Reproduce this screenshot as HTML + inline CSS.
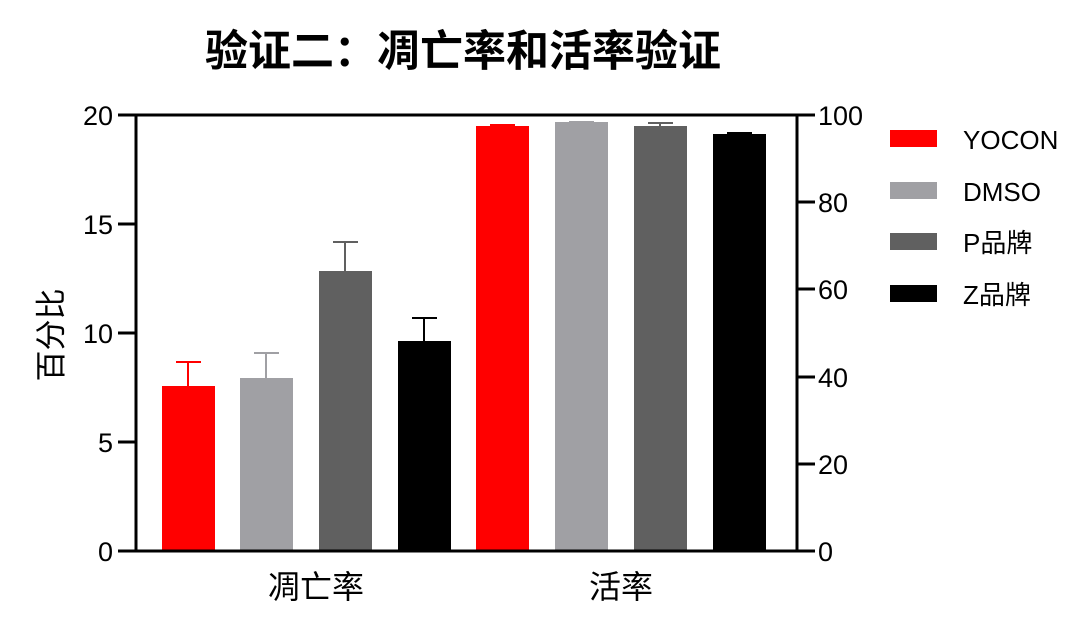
<!DOCTYPE html>
<html><head><meta charset="utf-8"><style>body{margin:0;background:#fff}svg{display:block}</style></head>
<body>
<svg width="1080" height="636" viewBox="0 0 1080 636" xmlns="http://www.w3.org/2000/svg" font-family="Liberation Sans, Noto Sans CJK SC, sans-serif">
<rect width="1080" height="636" fill="#fff"/>
<text x="463" y="66" text-anchor="middle" font-size="43" font-weight="bold" font-family="Noto Sans CJK SC, sans-serif">验证二：凋亡率和活率验证</text>
<g stroke-width="2">
<line x1="188" y1="386" x2="188" y2="362" stroke="#f00"/><line x1="176" y1="362" x2="201" y2="362" stroke="#f00"/>
<rect x="162" y="386" width="53" height="165" fill="#f00"/>
<line x1="266" y1="378" x2="266" y2="353" stroke="#a0a0a4"/><line x1="254" y1="353" x2="279" y2="353" stroke="#a0a0a4"/>
<rect x="240" y="378" width="53" height="173" fill="#a0a0a4"/>
<line x1="345" y1="271" x2="345" y2="242" stroke="#606060"/><line x1="333" y1="242" x2="358" y2="242" stroke="#606060"/>
<rect x="319" y="271" width="53" height="280" fill="#606060"/>
<line x1="424" y1="341" x2="424" y2="318" stroke="#000"/><line x1="412" y1="318" x2="437" y2="318" stroke="#000"/>
<rect x="398" y="341" width="53" height="210" fill="#000"/>
<line x1="490" y1="125" x2="515" y2="125" stroke="#f00"/>
<rect x="476" y="126" width="53" height="425" fill="#f00"/>
<line x1="569" y1="122" x2="594" y2="122" stroke="#a0a0a4"/>
<rect x="555" y="122" width="53" height="429" fill="#a0a0a4"/>
<line x1="660" y1="126" x2="660" y2="123" stroke="#606060"/><line x1="648" y1="123" x2="673" y2="123" stroke="#606060"/>
<rect x="634" y="126" width="53" height="425" fill="#606060"/>
<line x1="727" y1="133" x2="752" y2="133" stroke="#000"/>
<rect x="713" y="134" width="53" height="417" fill="#000"/>
</g>
<g stroke="#000" stroke-width="3" fill="none">
<line x1="136" y1="114" x2="136" y2="552"/>
<line x1="797" y1="114" x2="797" y2="552"/>
<line x1="134" y1="115" x2="799" y2="115"/>
<line x1="134" y1="551" x2="799" y2="551"/>
<line x1="118" y1="115" x2="136" y2="115"/><line x1="118" y1="224" x2="136" y2="224"/><line x1="118" y1="333" x2="136" y2="333"/><line x1="118" y1="442" x2="136" y2="442"/><line x1="118" y1="551" x2="136" y2="551"/>
<line x1="797" y1="115" x2="815" y2="115"/><line x1="797" y1="202" x2="815" y2="202"/><line x1="797" y1="289" x2="815" y2="289"/><line x1="797" y1="377" x2="815" y2="377"/><line x1="797" y1="464" x2="815" y2="464"/><line x1="797" y1="551" x2="815" y2="551"/>
</g>
<g font-size="27" text-anchor="end">
<text x="113" y="125">20</text><text x="113" y="234">15</text><text x="113" y="343">10</text><text x="113" y="452">5</text><text x="113" y="561">0</text>
</g>
<g font-size="27" text-anchor="start">
<text x="818" y="125">100</text><text x="818" y="212">80</text><text x="818" y="299">60</text><text x="818" y="387">40</text><text x="818" y="474">20</text><text x="818" y="561">0</text>
</g>
<text transform="translate(62,335) rotate(-90)" text-anchor="middle" font-size="31" font-family="Noto Sans CJK SC, sans-serif">百分比</text>
<g font-size="32" text-anchor="middle" font-family="Noto Sans CJK SC, sans-serif">
<text x="316" y="598">凋亡率</text><text x="621" y="598">活率</text>
</g>
<g font-size="26" font-family="Liberation Sans, Noto Sans CJK SC, sans-serif">
<rect x="890" y="130" width="47" height="17" fill="#f00"/><text x="963" y="149">YOCON</text>
<rect x="890" y="182" width="47" height="17" fill="#a0a0a4"/><text x="963" y="201">DMSO</text>
<rect x="890" y="233" width="47" height="17" fill="#606060"/><text x="963" y="252">P品牌</text>
<rect x="890" y="285" width="47" height="17" fill="#000"/><text x="963" y="304">Z品牌</text>
</g>
</svg>
</body></html>
